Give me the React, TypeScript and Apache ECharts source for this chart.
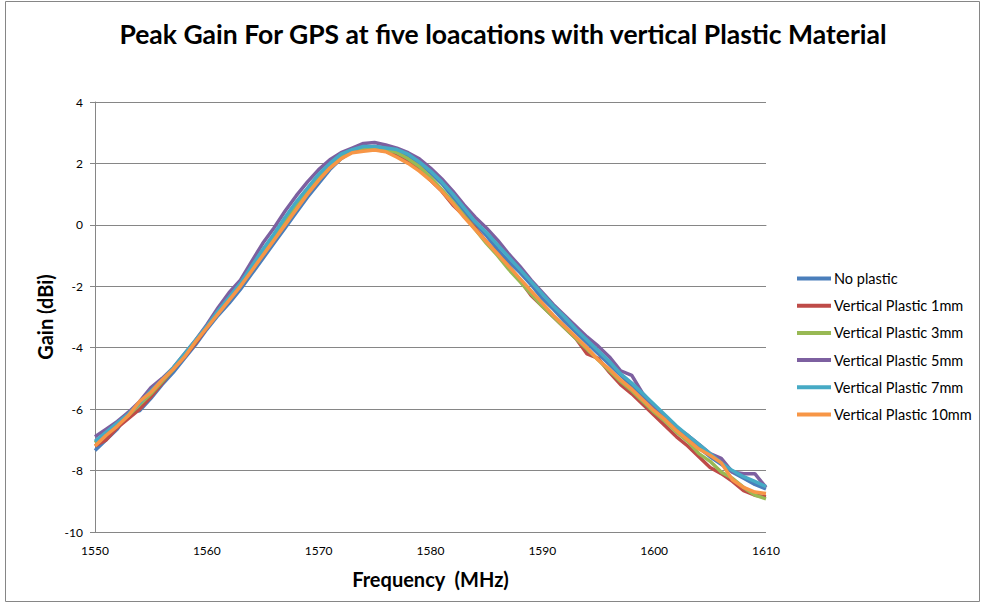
import React, { useEffect, useRef } from "react";
import * as echarts from "echarts";

const frequencies: number[] = [];
for (let f = 1550; f <= 1610; f++) frequencies.push(f);

const seriesNames = [
  "No plastic",
  "Vertical Plastic 1mm",
  "Vertical Plastic 3mm",
  "Vertical Plastic 5mm",
  "Vertical Plastic 7mm",
  "Vertical Plastic 10mm",
];

const seriesColors = ["#4A7EBB", "#BE4B48", "#98B954", "#7D60A0", "#46AAC5", "#F79646"];

const noPlastic = [
  -7.35, -7.0, -6.65, -6.1, -6.05, -5.65, -5.2, -4.8, -4.35, -3.9,
  -3.4, -2.95, -2.55, -2.1, -1.6, -1.1, -0.6, -0.1, 0.4, 0.9,
  1.35, 1.8, 2.15, 2.4, 2.5, 2.55, 2.5, 2.4, 2.25, 2.0,
  1.7, 1.35, 0.9, 0.45, 0.05, -0.35, -0.8, -1.2, -1.55, -1.95,
  -2.4, -2.75, -3.15, -3.5, -3.85, -4.2, -4.55, -4.9, -5.25, -5.6,
  -5.95, -6.3, -6.65, -6.95, -7.25, -7.55, -7.8, -8.05, -8.25, -8.45,
  -8.6,
];

const plastic1mm = [
  -7.2, -7.0, -6.6, -6.3, -6.0, -5.6, -5.15, -4.7, -4.3, -3.85,
  -3.35, -2.85, -2.4, -1.9, -1.4, -0.85, -0.35, 0.15, 0.65, 1.15,
  1.6, 1.95, 2.25, 2.4, 2.45, 2.45, 2.4, 2.25, 2.05, 1.8,
  1.45, 1.1, 0.65, 0.3, -0.1, -0.55, -0.95, -1.35, -1.8, -2.3,
  -2.65, -3.0, -3.35, -3.7, -4.2, -4.35, -4.8, -5.2, -5.5, -5.85,
  -6.2, -6.55, -6.9, -7.2, -7.55, -7.9, -8.1, -8.35, -8.65, -8.8,
  -8.85,
];

const plastic3mm = [
  -7.1, -6.8, -6.5, -6.2, -5.85, -5.5, -5.1, -4.7, -4.25, -3.8,
  -3.3, -2.85, -2.35, -1.9, -1.4, -0.9, -0.4, 0.1, 0.6, 1.1,
  1.55, 1.95, 2.25, 2.45, 2.5, 2.5, 2.45, 2.35, 2.15, 1.9,
  1.55, 1.15, 0.75, 0.3, -0.15, -0.6, -1.0, -1.45, -1.85, -2.25,
  -2.65, -3.0, -3.35, -3.7, -4.05, -4.4, -4.75, -5.1, -5.4, -5.75,
  -6.1, -6.4, -6.75, -7.05, -7.45, -7.7, -8.05, -8.25, -8.55, -8.8,
  -8.92,
];

const plastic5mm = [
  -6.9, -6.65, -6.4, -6.1, -5.75, -5.3, -5.0, -4.65, -4.2, -3.75,
  -3.25, -2.7, -2.2, -1.8, -1.2, -0.6, -0.1, 0.45, 0.95, 1.4,
  1.8, 2.12, 2.35, 2.5, 2.65, 2.68, 2.6, 2.5, 2.35, 2.15,
  1.85, 1.5, 1.1, 0.65, 0.25, -0.1, -0.5, -0.95, -1.35, -1.8,
  -2.2, -2.6, -2.95, -3.3, -3.65, -3.95, -4.3, -4.75, -4.9, -5.5,
  -5.9, -6.3, -6.6, -6.85, -7.15, -7.45, -7.6, -8.05, -8.1, -8.1,
  -8.55,
];

const plastic7mm = [
  -7.05, -6.75, -6.45, -6.15, -5.8, -5.4, -5.05, -4.65, -4.2, -3.75,
  -3.3, -2.8, -2.35, -1.9, -1.35, -0.8, -0.3, 0.25, 0.75, 1.2,
  1.65, 2.0, 2.3, 2.45, 2.55, 2.55, 2.5, 2.45, 2.3, 2.05,
  1.75, 1.4, 1.0, 0.55, 0.1, -0.25, -0.65, -1.05, -1.45, -1.85,
  -2.25, -2.65, -3.0, -3.4, -3.75, -4.1, -4.45, -4.85, -5.15, -5.5,
  -5.85, -6.2, -6.55, -6.85, -7.15, -7.45, -7.75, -8.0, -8.2, -8.35,
  -8.52,
];

const plastic10mm = [
  -7.2, -6.85, -6.55, -6.2, -5.75, -5.45, -5.05, -4.7, -4.3, -3.8,
  -3.35, -2.9, -2.45, -2.0, -1.5, -1.0, -0.5, 0.0, 0.5, 1.0,
  1.45, 1.85, 2.15, 2.35, 2.4, 2.44, 2.38, 2.2, 2.0, 1.75,
  1.45, 1.1, 0.7, 0.25, -0.15, -0.55, -0.95, -1.35, -1.75, -2.15,
  -2.55, -2.95, -3.3, -3.65, -4.0, -4.4, -4.7, -5.05, -5.35, -5.7,
  -6.05, -6.35, -6.7, -7.0, -7.3, -7.5, -7.75, -8.3, -8.55, -8.7,
  -8.75,
];

const allValues = [noPlastic, plastic1mm, plastic3mm, plastic5mm, plastic7mm, plastic10mm];

const titleText = "Peak Gain For GPS at five loacations with vertical Plastic Material";
const xAxisTitle = "Frequency  (MHz)";
const yAxisTitle = "Gain (dBi)";

export default function App() {
  const ref = useRef<HTMLDivElement>(null);
  useEffect(() => {
    if (!ref.current) return;
    const chart = echarts.init(ref.current, undefined, { renderer: "svg" });
    const font = "Lato, 'Liberation Sans', sans-serif";
    chart.setOption({
      animation: false,
      backgroundColor: "#ffffff",
      textStyle: { fontFamily: font },
      title: {
        text: titleText,
        left: 498,
        textAlign: "center",
        top: 15,
        textStyle: { fontFamily: font, fontSize: 26.5, fontWeight: "bold", color: "#000" },
      },
      graphic: [
        {
          type: "rect",
          shape: { x: 5.5, y: 1.5, width: 974, height: 600 },
          style: { fill: "none", stroke: "#868686", lineWidth: 1 },
          silent: true,
        },
        {
          type: "text",
          x: 45,
          y: 317,
          rotation: Math.PI / 2,
          style: {
            text: yAxisTitle,
            fontFamily: font,
            fontSize: 20,
            fontWeight: "bold",
            fill: "#000",
            align: "center",
            verticalAlign: "middle",
          },
        },
      ],
      legend: {
        orient: "vertical",
        left: 797,
        top: 271,
        padding: 0,
        itemWidth: 34,
        itemHeight: 4,
        itemGap: 12.2,
        icon: "rect",
        data: seriesNames,
        textStyle: { fontFamily: font, fontSize: 14.5, color: "#000", padding: [0, 0, 0, -2] },
      },
      grid: { left: 95, right: 216, top: 102, bottom: 78, containLabel: false },
      xAxis: {
        type: "value",
        min: 1550,
        max: 1610,
        interval: 10,
        name: xAxisTitle,
        nameLocation: "middle",
        nameGap: 37,
        nameTextStyle: { fontFamily: font, fontSize: 20, fontWeight: "bold", color: "#000" },
        axisLine: { show: true, lineStyle: { color: "#868686", width: 1 } },
        axisTick: { show: false },
        splitLine: { show: false },
        axisLabel: {
          fontFamily: font,
          fontSize: 12,
          color: "#000",
          margin: 12,
          formatter: (v: number) => String(v),
        },
      },
      yAxis: {
        type: "value",
        min: -10,
        max: 4,
        interval: 2,
        axisLine: { show: true, lineStyle: { color: "#868686", width: 1 } },
        axisTick: { show: true, length: 5, lineStyle: { color: "#868686" } },
        splitLine: { show: true, lineStyle: { color: "#868686", width: 1 } },
        axisLabel: { fontFamily: font, fontSize: 12, color: "#000", margin: 12 },
      },
      series: seriesNames.map((name, i) => ({
        name,
        type: "line",
        symbol: "none",
        showSymbol: false,
        color: seriesColors[i],
        lineStyle: { width: 3.5, color: seriesColors[i] },
        data: frequencies.map((f, j) => [f, allValues[i][j]]),
      })),
    });
    return () => chart.dispose();
  }, []);
  return (
    <div
      ref={ref}
      style={{ position: "fixed", left: 0, top: 0, width: 982, height: 610, background: "#fff" }}
    />
  );
}
